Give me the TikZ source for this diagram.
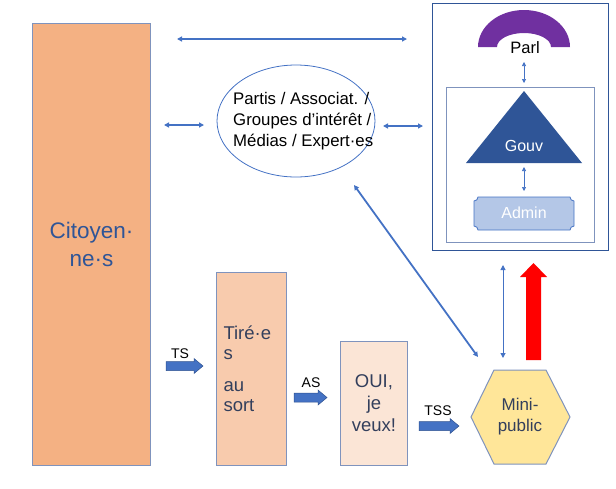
\documentclass[tikz,border=0pt]{standalone}
\usepackage{fontspec}
\setmainfont{Liberation Sans}
\usepackage{xcolor}
\usetikzlibrary{arrows.meta}
\usetikzlibrary{shapes}
\usetikzlibrary{positioning}
\usetikzlibrary{calc}

\definecolor{citfill}{HTML}{F4B183}
\definecolor{tirfill}{HTML}{F8CBAD}
\definecolor{ouifill}{HTML}{FBE5D6}
\definecolor{mpfill}{HTML}{FFE699}
\definecolor{boxline}{HTML}{7F93BD}
\definecolor{lnblue}{HTML}{4472C4}
\definecolor{blkline}{HTML}{2F528F}
\definecolor{txtblue}{HTML}{2F5597}
\definecolor{txtdark}{HTML}{333F5C}
\definecolor{parlcol}{HTML}{7030A0}
\definecolor{admfill}{HTML}{B4C7E7}

\begin{document}
\begin{tikzpicture}[x=1pt,y=-1pt,
    bar/.style={draw=boxline,line width=1pt,inner sep=0pt,anchor=north west},
    blk/.style={draw=blkline,fill=lnblue,line width=0.5pt,line join=miter},
    lab/.style={font=\fontsize{14}{16}\selectfont},
    dbl/.style={{Triangle[length=5pt,width=5pt]}-{Triangle[length=5pt,width=5pt]},
        draw=lnblue,line width=1.3pt},
    dblthin/.style={{Triangle[length=4pt,width=4pt]}-{Triangle[length=4pt,width=4pt]},
        draw=lnblue,line width=0.7pt}]
    \useasboundingbox (0,0) rectangle (616,488);

    % boxes on the left
    \node[bar,fill=citfill,minimum width=118pt,minimum height=442pt,align=center,
        text=txtblue,font=\fontsize{22.5}{28}\selectfont] (cit) at (32,23) {Citoyen·\\ne·s};
    \node[bar,fill=tirfill,minimum width=70pt,minimum height=193pt,text width=56pt,align=left,
        text=txtdark,font=\fontsize{18.5}{20}\selectfont] (tir) at (216,272) {Tiré·e\\s\\[12pt]au\\sort};
    \node[bar,fill=ouifill,minimum width=67pt,minimum height=124pt,align=center,
        text=txtdark,font=\fontsize{18.5}{22}\selectfont] (oui) at (340,341) {OUI,\\je\\veux!};

    % mini-public
    \filldraw[fill=mpfill,draw=boxline,line width=1pt]
        (471,417) -- (494,370) -- (546,370) -- (570,417) -- (546,464) -- (494,464) -- cycle;
    \node[align=center,text=txtdark,font=\fontsize{17}{21}\selectfont] (mp) at (520,417) {Mini-\\public};

    % ellipse
    \node[ellipse,draw=lnblue,line width=0.8pt,inner sep=0pt,minimum width=158pt,
        minimum height=112pt] (ell) at (296,121) {};
    \node[anchor=west,align=left,inner sep=0pt,font=\fontsize{16.8}{21}\selectfont] (elltxt) at (233,121)
        {Partis / Associat. /\\Groupes d’intérêt /\\Médias / Expert·es};

    % institutions
    \node[draw=txtblue,line width=0.8pt,inner sep=0pt,anchor=north west,
        minimum width=176pt,minimum height=247pt] (inst) at (432,3) {};
    \node[draw=boxline,line width=0.8pt,inner sep=0pt,anchor=north west,
        minimum width=148pt,minimum height=155pt] (exec) at (446,87) {};
    \fill[parlcol] (478,47) arc[start angle=180,end angle=360,x radius=46,y radius=37]
        -- (551,47) arc[start angle=0,end angle=-180,x radius=27,y radius=14] -- cycle;
    \node[font=\fontsize{16.5}{18}\selectfont] (parl) at (525,48) {Parl};
    \fill[txtblue] (524,91) -- (582,163) -- (466,163) -- cycle;
    \node[text=white,font=\fontsize{16}{18}\selectfont] (gouv) at (524,146) {Gouv};
    \filldraw[fill=admfill,draw=lnblue,line width=0.8pt]
        (478,197) -- (570,197) arc[start angle=180,end angle=90,radius=4]
        -- (574,226) arc[start angle=270,end angle=180,radius=4]
        -- (478,230) arc[start angle=360,end angle=270,radius=4]
        -- (474,201) arc[start angle=90,end angle=0,radius=4] -- cycle;
    \node[text=white,font=\fontsize{16}{18}\selectfont] (admin) at (524,213) {Admin};

    % block arrows
    \filldraw[blk] (166,361.5) -- ++(28,0) -- ++(0,-3) -- (203,366) -- (194,373.5)
        -- ++(0,-3) -- (166,370.5) -- cycle;
    \filldraw[blk] (294,393) -- ++(24,0) -- ++(0,-3) -- (327,397.5) -- (318,405)
        -- ++(0,-3) -- (294,402) -- cycle;
    \filldraw[blk] (419,421.5) -- ++(31,0) -- ++(0,-3) -- (459,426) -- (450,433.5)
        -- ++(0,-3) -- (419,430.5) -- cycle;
    \node[lab] (lts) at (180,354) {TS};
    \node[lab] (las) at (311,383) {AS};
    \node[lab] (ltss) at (438,411) {TSS};
    \fill[red] (526,360) -- (526,277) -- (520,277) -- (533.5,263) -- (547,277)
        -- (541,277) -- (541,360) -- cycle;

    % ends of the links
    \coordinate (top1) at (177,39);
    \coordinate (top2) at (407,39);
    \coordinate (cl1) at (164,125);
    \coordinate (cl2) at (204,125);
    \coordinate (cr1) at (383,126);
    \coordinate (cr2) at (423,126);
    \coordinate (pg1) at (524,62);
    \coordinate (pg2) at (524,83);
    \coordinate (ga1) at (524,167);
    \coordinate (ga2) at (524,191);
    \coordinate (dg1) at (354,185);
    \coordinate (dg2) at (478,357);
    \coordinate (vt1) at (503,265);
    \coordinate (vt2) at (503,358);

    \path (top1) edge[dbl] (top2);
    \path (cl1) edge[dbl,line width=1.8pt] (cl2);
    \path (cr1) edge[dbl,line width=1.8pt] (cr2);
    \path (pg1) edge[dblthin] (pg2);
    \path (ga1) edge[dblthin] (ga2);
    \path (dg1) edge[dbl,line width=1.8pt] (dg2);
    \path (vt1) edge[dbl,line width=1pt] (vt2);
\end{tikzpicture}
\end{document}
